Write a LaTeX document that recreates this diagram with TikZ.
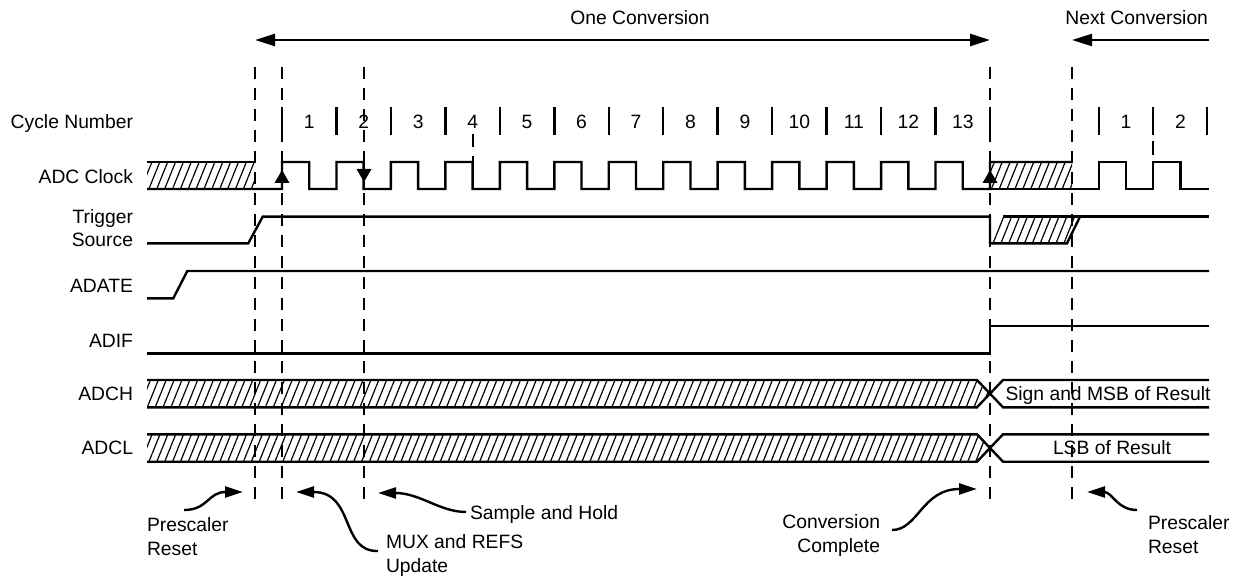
\documentclass[tikz,border=0pt]{standalone}
\usepackage{fontspec}
\setmainfont{Liberation Sans}
\usetikzlibrary{arrows.meta,patterns.meta}
\begin{document}
\begin{tikzpicture}[x=1pt,y=-1pt,
  every node/.style={font=\fontsize{19.3}{24}\selectfont, inner sep=0pt, outer sep=0pt},
  sig/.style={line width=2.4pt, line join=miter},
  thicksig/.style={line width=3.4pt},
  dl/.style={line width=1.9pt, dash pattern=on 12pt off 9pt},
  tickm/.style={line width=2.4pt},
  hatch/.style={pattern={Lines[angle=68,distance=7.3pt,line width=1.2pt]}},
  conv/.style={line width=2.4pt, -{Triangle[length=20pt,width=12pt]}},
  annot/.style={line width=2.4pt, -{Triangle[length=18pt,width=11pt]}},
  tri/.style={fill=black}
]
\useasboundingbox (0,0) rectangle (1246,577);

% ---- top arrows
\coordinate (convL) at (255,40);
\coordinate (convR) at (990,40);
\coordinate (nextL) at (1072,40);
\coordinate (nextR) at (1209,40);
\draw[conv, {Triangle[length=20pt,width=12pt]}-{Triangle[length=20pt,width=12pt]}] (convL) -- (convR);
\draw[conv] (nextR) -- (nextL);
\node[anchor=base] (onec) at (640,25) {One Conversion};
\node[anchor=base east] (nextc) at (1208,25) {Next Conversion};

% ---- labels
\node[anchor=base east] (lcyc) at (133,129) {Cycle Number};
\node[anchor=base east] (lclk) at (133,184) {ADC Clock};
\node[anchor=base east, align=right] (ltrg) at (133,247) {Trigger\\Source};
\node[anchor=base east] (ladate) at (133,292) {ADATE};
\node[anchor=base east] (ladif) at (133,347) {ADIF};
\node[anchor=base east] (ladch) at (133,400) {ADCH};
\node[anchor=base east] (ladcl) at (133,454) {ADCL};

% ---- cycle number ticks and numbers
\foreach \k in {0,...,13} \draw[tickm] ({282+54.46*\k},107) -- ({282+54.46*\k},135);
\foreach \x in {1099,1153,1207} \draw[tickm] (\x,107) -- (\x,135);
\foreach \k in {1,...,13} \node[anchor=base] (cn\k) at ({282+54.46*(\k-0.5)},129) {\k};
\node[anchor=base] (cnb1) at (1126,129) {1};
\node[anchor=base] (cnb2) at (1180.5,129) {2};
\draw[line width=1.9pt, dash pattern=on 13pt off 9pt] (472.7,134) -- (472.7,162);
\draw[line width=1.9pt] (1153,141) -- (1153,155);

% ---- ADC clock
\fill[hatch] (147,162) rectangle (255,189);
\fill[hatch] (990,162) rectangle (1072,189);
\draw[sig] (147,162) -- (255,162);
\draw[sig] (147,189) -- (282,189)
  foreach \k [evaluate=\k as \r using 282+54.46*\k] in {0,...,12} {
    -- (\r,162) -- (\r+27.23,162) -- (\r+27.23,189) -- (\r+54.46,189) }
  -- (990,162) -- (1072,162);
\draw[sig] (990,189) -- (1099,189) -- (1099,162) -- (1126,162) -- (1126,189)
  -- (1153,189) -- (1153,162) -- (1180.5,162) -- (1180.5,189) -- (1209,189);

% ---- Trigger source
\fill[hatch] (990,243.3) -- (1003,216.7) -- (1080,216.7) -- (1067,243.3) -- cycle;
\draw[sig] (147,243.3) -- (248.3,243.3) -- (262.7,216.7) -- (990,216.7) -- (990,243.3) -- (1067,243.3) -- (1080,216.7);
\draw[sig] (1003,216.7) -- (1209,216.7);

% ---- ADATE
\draw[sig] (147,298.3) -- (173.3,298.3) -- (187.3,271) -- (1209,271);

% ---- ADIF
\draw[thicksig] (147,353.3) -- (990,353.3);
\draw[sig] (990,354.5) -- (990,326) -- (1209,326);

% ---- ADCH
\fill[hatch] (147,380) -- (977,380) -- (990,393.7) -- (977,407.3) -- (147,407.3) -- cycle;
\draw[sig] (147,380) -- (977,380) -- (1003,407.3) -- (1209,407.3);
\draw[sig] (147,407.3) -- (977,407.3) -- (1003,380) -- (1209,380);
\node[anchor=base] (vch) at (1108,400) {Sign and MSB of Result};

% ---- ADCL
\fill[hatch] (147,434.3) -- (977,434.3) -- (990,448) -- (977,461.7) -- (147,461.7) -- cycle;
\draw[sig] (147,434.3) -- (977,434.3) -- (1003,461.7) -- (1209,461.7);
\draw[sig] (147,461.7) -- (977,461.7) -- (1003,434.3) -- (1209,434.3);
\node[anchor=base] (vcl) at (1112,454) {LSB of Result};

% ---- dashed event lines
\foreach \x in {255,282,364,990,1072} \draw[dl] (\x,67) -- (\x,507);

% ---- clock edge markers
\fill[tri] (274.5,183) -- (289.5,183) -- (282,170) -- cycle;
\fill[tri] (356.5,169) -- (371.5,169) -- (364,182) -- cycle;
\fill[tri] (982.5,183) -- (997.5,183) -- (990,170) -- cycle;

% ---- annotations
\node[anchor=base west, align=left] (apr1) at (147,555) {Prescaler\\Reset};
\node[anchor=base west, align=left] (amux) at (386,572) {MUX and REFS\\Update};
\node[anchor=base west] (ash) at (470,519) {Sample and Hold};
\node[anchor=base east, align=right] (acc) at (880,552) {Conversion\\Complete};
\node[anchor=base west, align=left] (apr2) at (1148,553) {Prescaler\\Reset};

\coordinate (tpr1) at (184,510);   \coordinate (hpr1) at (243,492);
\coordinate (tmux) at (378,551);   \coordinate (hmux) at (296,492);
\coordinate (tsh)  at (466,512);   \coordinate (hsh)  at (378,493);
\coordinate (tcc)  at (892,530);   \coordinate (hcc)  at (977,489);
\coordinate (tpr2) at (1137,510);  \coordinate (hpr2) at (1087,492);

\draw[annot] (tpr1) .. controls (208,510) and (208,492) .. (hpr1);
\draw[annot] (tmux) .. controls (340,552) and (355,492) .. (hmux);
\draw[annot] (tsh)  .. controls (440,512) and (420,493) .. (hsh);
\draw[annot] (tcc)  .. controls (918,530) and (922,489) .. (hcc);
\draw[annot] (tpr2) .. controls (1117,510) and (1112,492) .. (hpr2);
\end{tikzpicture}
\end{document}
